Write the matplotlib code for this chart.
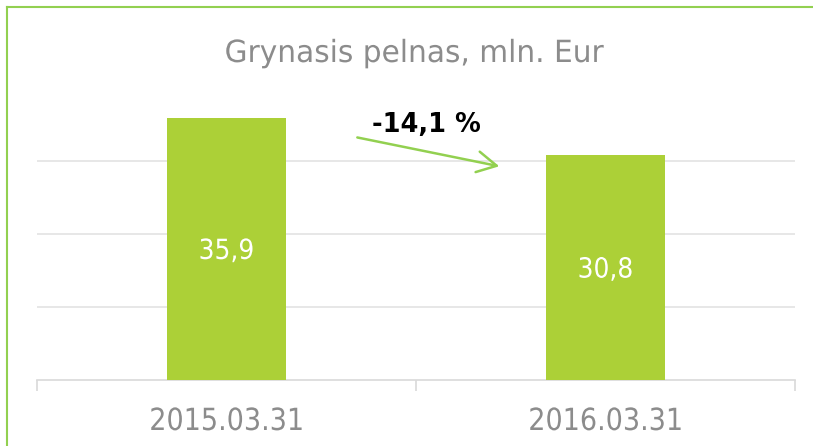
import matplotlib.pyplot as plt
from matplotlib.lines import Line2D
from matplotlib.patheffects import AbstractPathEffect
from matplotlib.transforms import Affine2D

# Donnees
categories = ["2015.03.31", "2016.03.31"]
values = [35.9, 30.8]
value_labels = ["35,9", "30,8"]
change_label = "-14,1 %"
title = "Grynasis pelnas, mln. Eur"

plt.rcParams['font.family'] = ['DejaVu Sans']


class Squeeze(AbstractPathEffect):
    # compresse le texte horizontalement autour de son centre
    def __init__(self, sx):
        super().__init__()
        self.sx = sx

    def draw_path(self, renderer, gc, tpath, affine, rgbFace=None):
        ext = tpath.get_extents()
        cx = (ext.x0 + ext.x1) / 2
        t = Affine2D().translate(-cx, 0).scale(self.sx, 1).translate(cx, 0) + affine
        renderer.draw_path(gc, tpath, t, rgbFace)


bar_color = "#ACD037"
text_gray = "#8C8C8C"
grid_gray = "#E3E3E3"
ppu = 7.3  # pixels par unite

fig = plt.figure(figsize=(8.13, 4.46), dpi=100)
ax = fig.add_axes([37 / 813, 66 / 446, 758 / 813, 292 / 446])

x = list(range(len(categories)))
ax.bar(x, values, width=0.315, color=bar_color, zorder=3)

for xi, v, lab in zip(x, values, value_labels):
    ax.text(xi, v / 2 - 10 / ppu, lab, ha="center", va="baseline", color="white",
            fontsize=20, zorder=4, path_effects=[Squeeze(0.9)])

ax.set_xlim(-0.5, 1.5)
ax.set_ylim(0, 40)
for gy in [10, 20, 30]:
    ax.axhline(gy, color=grid_gray, linewidth=1.2, zorder=1)

for s in ["top", "right", "left"]:
    ax.spines[s].set_visible(False)
ax.spines["bottom"].set_color("#D9D9D9")
ax.spines["bottom"].set_linewidth(1.2)
ax.set_yticks([])
ax.set_xticks([-0.5, 0.5, 1.5])
ax.set_xticklabels([])
ax.tick_params(axis="x", length=8, color="#D9D9D9", width=1.2)
for xi, cat in zip(x, categories):
    ax.text(xi, -50 / ppu, cat, ha="center", va="baseline", color=text_gray,
            fontsize=22, path_effects=[Squeeze(0.885)])

# Fleche et variation
ax.annotate("", xy=(0.727, 29.2), xytext=(0.338, 33.3),
            arrowprops=dict(arrowstyle="->,head_length=1.4,head_width=0.75",
                            color="#92D050", lw=1.8))
ax.text(0.528, 248 / ppu, change_label, ha="center", va="baseline", fontsize=18.5,
        fontweight="bold", color="black")

fig.text(414 / 813, 1 - 62 / 446, title, ha="center", va="baseline", color=text_gray,
         fontsize=22, path_effects=[Squeeze(0.97)])

# Bordure verte (haut et gauche)
fig.add_artist(Line2D([7 / 813, 1], [1 - 7 / 446, 1 - 7 / 446], color="#92D050", lw=1.5))
fig.add_artist(Line2D([7 / 813, 7 / 813], [0, 1 - 7 / 446], color="#92D050", lw=1.5))

plt.savefig("out.png", dpi=100)
plt.close()
